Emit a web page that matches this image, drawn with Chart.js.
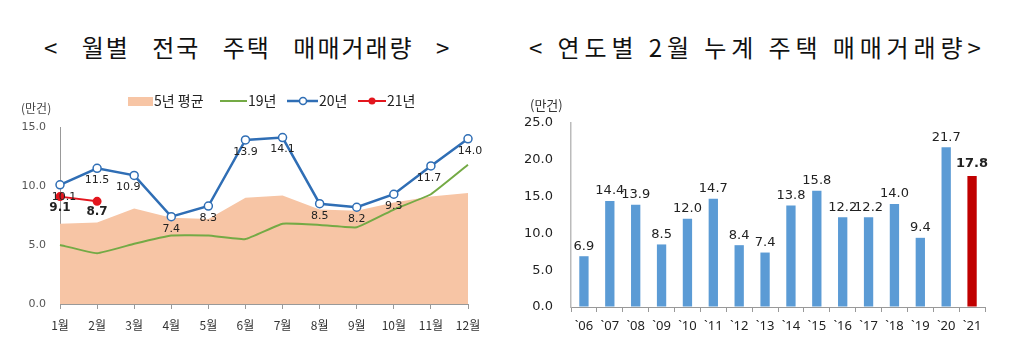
<!DOCTYPE html>
<html>
<head>
<meta charset="utf-8">
<script src="https://cdn.jsdelivr.net/npm/chart.js@4/dist/chart.umd.min.js"></script>
<style>
  body { margin: 0; background: #fff; width: 1016px; height: 361px; position: relative; overflow: hidden; }
  .title { position: absolute; top: 29px; font-family: "Noto Sans CJK KR", sans-serif; font-size: 24px; color: #111; white-space: pre; }
  #t1 { left: 44px; letter-spacing: 2px; word-spacing: 15px; }
  #t2 { left: 529px; letter-spacing: 4.9px; word-spacing: 0px; }
  .box { position: absolute; top: 85px; height: 276px; }
  #leftBox { left: 0; width: 500px; }
  #rightBox { left: 500px; width: 516px; }
</style>
</head>
<body>
<div class="title" id="t1">&lt; 월별 전국 주택 매매거래량 &gt;</div>
<div class="title" id="t2">&lt; 연도별 2월 누계 주택 매매거래량&gt;</div>
<div class="box" id="leftBox"><canvas id="monthChart"></canvas></div>
<div class="box" id="rightBox"><canvas id="yearChart"></canvas></div>
<script>
// monthly data (만건)
const months = ["1월", "2월", "3월", "4월", "5월", "6월", "7월", "8월", "9월", "10월", "11월", "12월"];
const avg5y = [6.8, 6.9, 8.1, 7.3, 7.2, 9.0, 9.2, 8.0, 7.9, 8.6, 9.1, 9.4];
const y2019 = [5.0, 4.3, 5.1, 5.8, 5.8, 5.5, 6.8, 6.7, 6.5, 8.0, 9.3, 11.8];
const y2020 = [10.1, 11.5, 10.9, 7.4, 8.3, 13.9, 14.1, 8.5, 8.2, 9.3, 11.7, 14.0];
const y2021 = [9.1, 8.7];

// february cumulative by year (만건)
const years = ["`06", "`07", "`08", "`09", "`10", "`11", "`12", "`13", "`14", "`15", "`16", "`17", "`18", "`19", "`20", "`21"];
const febTotals = [6.9, 14.4, 13.9, 8.5, 12.0, 14.7, 8.4, 7.4, 13.8, 15.8, 12.2, 12.2, 14.0, 9.4, 21.7, 17.8];

const FONT = '"DejaVu Sans", "Noto Sans CJK KR", sans-serif';
const KFONT = '"Noto Sans CJK KR", sans-serif';

// value labels drawn under the line points
const valueLabels = {
  id: 'valueLabels',
  afterDatasetsDraw(chart) {
    const ctx = chart.ctx;
    chart.data.datasets.forEach((ds, i) => {
      if (!ds.showValues) return;
      const meta = chart.getDatasetMeta(i);
      ctx.save();
      ctx.font = (ds.valueBold ? 'bold ' : '') + ds.valueSize + 'px ' + FONT;
      ctx.fillStyle = '#222';
      ctx.textAlign = 'center';
      ctx.textBaseline = 'middle';
      meta.data.forEach((el, j) => {
        const v = ds.data[j];
        if (v == null) return;
        let dx = 0;
        if (ds.valueDx) dx = ds.valueDx[j] || 0;
        ctx.fillText(v.toFixed(1), el.x + dx, el.y + ds.valueDy);
      });
      ctx.restore();
    });
  }
};

// legend and unit for the monthly chart
const monthDecor = {
  id: 'monthDecor',
  afterDraw(chart) {
    const ctx = chart.ctx;
    ctx.save();
    ctx.font = '12px ' + KFONT;
    ctx.fillStyle = '#444';
    ctx.textBaseline = 'middle';
    ctx.fillText('(만건)', 21, 23);
    const y = 16;
    ctx.font = '14px ' + KFONT;
    // 5년 평균
    ctx.fillStyle = '#F7C5A5';
    ctx.fillRect(128, y - 4, 25, 9);
    ctx.fillStyle = '#222';
    ctx.fillText('5년 평균', 154, y);
    // 19년
    ctx.strokeStyle = '#74AA45';
    ctx.lineWidth = 2;
    ctx.beginPath(); ctx.moveTo(220, y); ctx.lineTo(247, y); ctx.stroke();
    ctx.fillText('19년', 248, y);
    // 20년
    ctx.strokeStyle = '#2F6EB5';
    ctx.lineWidth = 2.5;
    ctx.beginPath(); ctx.moveTo(287, y); ctx.lineTo(318, y); ctx.stroke();
    ctx.beginPath(); ctx.arc(303, y, 3.5, 0, Math.PI * 2);
    ctx.fillStyle = '#fff'; ctx.fill();
    ctx.lineWidth = 1.5; ctx.stroke();
    ctx.fillStyle = '#222';
    ctx.fillText('20년', 319, y);
    // 21년
    ctx.strokeStyle = '#E3161E';
    ctx.lineWidth = 2;
    ctx.beginPath(); ctx.moveTo(358, y); ctx.lineTo(386, y); ctx.stroke();
    ctx.beginPath(); ctx.arc(372, y, 3.5, 0, Math.PI * 2);
    ctx.fillStyle = '#E3161E'; ctx.fill();
    ctx.fillStyle = '#222';
    ctx.fillText('21년', 387, y);
    ctx.restore();
  }
};

const yearDecor = {
  id: 'yearDecor',
  afterDraw(chart) {
    const ctx = chart.ctx;
    ctx.save();
    ctx.font = '13px ' + KFONT;
    ctx.fillStyle = '#333';
    ctx.textBaseline = 'middle';
    ctx.fillText('(만건)', 30, 20);
    ctx.restore();
  }
};

new Chart(document.getElementById('monthChart'), {
  type: 'line',
  data: {
    labels: months,
    datasets: [
      {
        label: '21년', data: y2021, borderColor: '#E3161E', backgroundColor: '#E3161E',
        borderWidth: 2, pointRadius: 3.5, pointBackgroundColor: '#E3161E', tension: 0,
        showValues: true, valueBold: true, valueSize: 12, valueDy: 11, order: 0
      },
      {
        label: '20년', data: y2020, borderColor: '#2F6EB5', borderWidth: 2.5,
        pointRadius: 4, pointBackgroundColor: '#fff', pointBorderColor: '#2F6EB5', pointBorderWidth: 1.5,
        tension: 0, showValues: true, valueSize: 11, valueDy: 12,
        valueDx: [4, 0, -6, 0, 0, 0, 0, 0, 0, 0, -2, 2], order: 1
      },
      {
        label: '19년', data: y2019, borderColor: '#74AA45', borderWidth: 2,
        pointRadius: 0, tension: 0.1, fill: false, order: 2
      },
      {
        label: '5년 평균', data: avg5y, borderWidth: 0, borderColor: 'rgba(0,0,0,0)',
        backgroundColor: '#F7C5A5', pointRadius: 0, fill: 'origin', tension: 0, order: 3
      }
    ]
  },
  options: {
    responsive: true,
    maintainAspectRatio: false,
    animation: false,
    layout: { padding: { top: 42, right: 32, left: 0, bottom: 0 } },
    plugins: { legend: { display: false }, tooltip: { enabled: false } },
    scales: {
      x: {
        offset: false,
        grid: { drawOnChartArea: false, drawTicks: true, tickLength: 5, color: '#999' },
        border: { color: '#999' },
        ticks: { font: { size: 12, family: KFONT }, color: '#333', padding: 9, maxRotation: 0, autoSkip: false },
        afterFit: s => { s.height = 57; }
      },
      y: {
        min: 0, max: 15,
        grid: { display: true, drawOnChartArea: false, drawTicks: false },
        border: { color: '#999' },
        ticks: { stepSize: 5, callback: v => v.toFixed(1), font: { size: 11, family: FONT }, color: '#555', padding: 14 },
        afterFit: s => { s.width = 60; }
      }
    }
  },
  plugins: [valueLabels, monthDecor]
});

new Chart(document.getElementById('yearChart'), {
  type: 'bar',
  data: {
    labels: years,
    datasets: [{
      label: '2월 누계',
      data: febTotals,
      backgroundColor: febTotals.map((v, i) => i === febTotals.length - 1 ? '#C00000' : '#5B9BD5'),
      categoryPercentage: 1,
      barPercentage: 0.36
    }]
  },
  options: {
    responsive: true,
    maintainAspectRatio: false,
    animation: false,
    layout: { padding: { top: 38, right: 31, left: 0, bottom: 0 } },
    plugins: { legend: { display: false }, tooltip: { enabled: false } },
    scales: {
      x: {
        grid: { drawOnChartArea: false, drawTicks: true, tickLength: 5, color: '#999', offset: true },
        border: { color: '#999' },
        ticks: { font: { size: 13, family: '"Noto Sans", sans-serif' }, color: '#222', padding: 6, maxRotation: 0, autoSkip: false },
        afterFit: s => { s.height = 54; }
      },
      y: {
        min: 0, max: 25,
        grid: { display: true, drawOnChartArea: false, drawTicks: false },
        border: { color: '#bbb', width: 1.5 },
        ticks: { stepSize: 5, callback: v => v.toFixed(1), font: { size: 13, family: FONT }, color: '#222', padding: 18 },
        afterFit: s => { s.width = 71; }
      }
    }
  },
  plugins: [{
    id: 'barLabels',
    afterDatasetsDraw(chart) {
      const ctx = chart.ctx;
      const meta = chart.getDatasetMeta(0);
      ctx.save();
      ctx.fillStyle = '#222';
      ctx.textAlign = 'center';
      ctx.textBaseline = 'middle';
      meta.data.forEach((bar, j) => {
        const last = j === febTotals.length - 1;
        ctx.font = (last ? 'bold ' : '') + '13px ' + FONT;
        ctx.fillText(febTotals[j].toFixed(1), bar.x, bar.y - (last ? 12 : 10));
      });
      ctx.restore();
    }
  }, yearDecor]
});
</script>
</body>
</html>
